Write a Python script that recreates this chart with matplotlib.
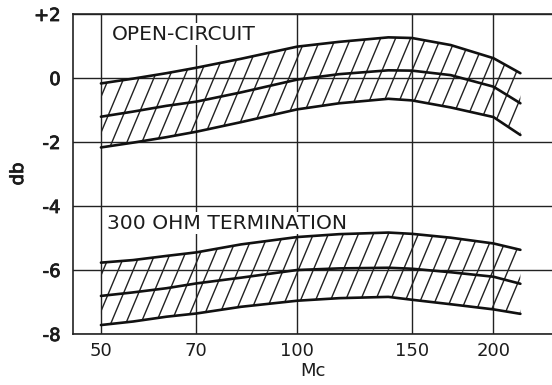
import numpy as np
import matplotlib
matplotlib.use("Agg")
import matplotlib.pyplot as plt
import matplotlib.patheffects as pe
from matplotlib.collections import LineCollection

# frequency points (Mc)
freq = [50, 56, 63, 70, 82, 100, 116, 138, 150, 172, 200, 220]

# open-circuit response (db): upper limit, typical, lower limit
oc_upper = [-0.17, -0.02, 0.15, 0.32, 0.60, 0.98, 1.13, 1.27, 1.25, 1.03, 0.62, 0.15]
oc_mid = [-1.21, -1.05, -0.87, -0.74, -0.45, -0.05, 0.12, 0.24, 0.23, 0.09, -0.27, -0.79]
oc_lower = [-2.17, -2.02, -1.85, -1.68, -1.38, -0.98, -0.79, -0.65, -0.70, -0.92, -1.22, -1.78]

# 300 ohm termination response (db)
term_upper = [-5.77, -5.69, -5.56, -5.45, -5.20, -4.97, -4.88, -4.83, -4.87, -4.99, -5.17, -5.37]
term_mid = [-6.81, -6.70, -6.57, -6.42, -6.24, -6.00, -5.95, -5.93, -5.96, -6.07, -6.21, -6.43]
term_lower = [-7.72, -7.61, -7.46, -7.36, -7.15, -6.96, -6.88, -6.84, -6.93, -7.07, -7.23, -7.37]

xticks = [50, 70, 100, 150, 200]
xticklabels = ["50", "70", "100", "150", "200"]
yticks = [2, 0, -2, -4, -6, -8]
yticklabels = ["+2", "0", "-2", "-4", "-6", "-8"]

ink = "#1c1c1c"
# a thin outline in the text colour gives a medium stroke weight
medium = [pe.withStroke(linewidth=0.6, foreground=ink)]

fig = plt.figure(figsize=(5.52, 3.85), dpi=100)
ax = fig.add_axes([73 / 552, 51 / 385, 479 / 552, 320 / 385])
ax.set_xscale("log")
ax.set_xlim(45.3, 246)
ax.set_ylim(-8, 2)

ax.set_xticks(xticks)
ax.set_xticklabels(xticklabels)
ax.xaxis.set_minor_locator(matplotlib.ticker.NullLocator())
ax.set_yticks(yticks)
ax.set_yticklabels(yticklabels)
ax.tick_params(length=0, colors=ink)
ax.tick_params(axis="y", pad=9, labelsize=13)
ax.tick_params(axis="x", pad=6, labelsize=13)
for lab in ax.get_yticklabels():
    lab.set_path_effects(medium)
ax.grid(True, color="#222222", lw=1.0)
ax.set_axisbelow(True)
for side in ["left", "bottom", "top"]:
    ax.spines[side].set_linewidth(1.2)
    ax.spines[side].set_color("#222222")
ax.spines["right"].set_visible(False)

ax.set_xlabel("Mc", fontsize=13, labelpad=1, color=ink)
ax.set_ylabel("db", fontsize=13, labelpad=5, color=ink, path_effects=medium)


def hatched_band(lower, mid, upper):
    band = ax.fill_between(freq, lower, upper, facecolor="none", edgecolor="none")
    clip = band.get_paths()[0]
    # slanted hatch lines in axes fraction, clipped to the band
    slant = 0.42 * (320 / 479)
    step = 15 / 479
    segs = [[(u, 0), (u + slant, 1)] for u in np.arange(-0.4, 1.2, step)]
    lc = LineCollection(segs, colors="#222222", linewidths=1.0, transform=ax.transAxes)
    ax.add_collection(lc)
    lc.set_clip_path(clip, ax.transData)
    for y in (lower, mid, upper):
        ax.plot(freq, y, color="#111111", lw=1.9, solid_capstyle="round")


hatched_band(oc_lower, oc_mid, oc_upper)
hatched_band(term_lower, term_mid, term_upper)

# labels sit above the grid but below the curves
label_box = dict(facecolor="white", edgecolor="none", pad=1.0)
ax.text(0.082, 0.937, "OPEN-CIRCUIT", transform=ax.transAxes, fontsize=14.6,
        va="center", ha="left", color=ink, bbox=label_box, zorder=1)
ax.text(0.070, 0.346, "300 OHM TERMINATION", transform=ax.transAxes, fontsize=14.6,
        va="center", ha="left", color=ink, bbox=label_box, zorder=1)

fig.savefig("out.png", dpi=100, facecolor="white")
